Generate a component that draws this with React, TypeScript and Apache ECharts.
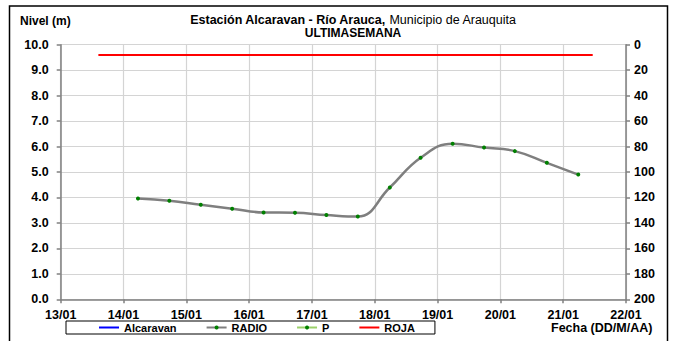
import React, { useEffect, useRef } from "react";
import * as echarts from "echarts";

// Days of January (decimal day) for each RADIO reading
const radioTimes = [14.23, 14.73, 15.23, 15.73, 16.23, 16.73, 17.23, 17.73, 18.24, 18.73, 19.24, 19.74, 20.23, 20.74, 21.24];
const radioLevels = [3.96, 3.87, 3.71, 3.56, 3.41, 3.40, 3.31, 3.25, 4.39, 5.56, 6.11, 5.96, 5.82, 5.36, 4.90];
// Red alert threshold (ROJA)
const rojaTimes = [13.6, 21.47];
const rojaLevels = [9.6, 9.6];
const legendNames = ["Alcaravan", "RADIO", "P", "ROJA"];
const titleBold = "Estación Alcaravan - Río Arauca,";
const titleNormal = " Municipio de Arauquita";
const subtitle = "ULTIMASEMANA";
const yName = "Nivel (m)";
const xName = "Fecha (DD/M/AA)";

const FONT = "'Liberation Sans', Arial, sans-serif";

export default function App() {
  const ref = useRef<HTMLDivElement>(null);
  useEffect(() => {
    if (!ref.current) return;
    const chart = echarts.init(ref.current, null, { renderer: "svg" });
    const axisLineStyle = { color: "#808080", width: 1.5 };
    const labelStyle = { color: "#000", fontFamily: FONT, fontWeight: "bold" as const, fontSize: 12.5 };
    const noDot = { color: "rgba(0,0,0,0)", borderWidth: 0 };
    chart.setOption({
      animation: false,
      backgroundColor: "#fff",
      grid: { left: 60.7, right: 48, top: 44.7, bottom: 41.7 },
      xAxis: {
        type: "value",
        min: 13,
        max: 22,
        interval: 1,
        axisLine: { show: true, lineStyle: axisLineStyle, onZero: false },
        axisTick: { show: true, length: 4, lineStyle: axisLineStyle },
        axisLabel: { ...labelStyle, margin: 9, formatter: (v: number) => `${String(v).padStart(2, "0")}/01` },
        splitLine: { show: true, lineStyle: { color: "#d4d4d4", width: 1.2 } },
      },
      yAxis: [
        {
          type: "value",
          min: 0,
          max: 10,
          interval: 1,
          axisLine: { show: true, lineStyle: axisLineStyle },
          axisTick: { show: true, length: 4, lineStyle: axisLineStyle },
          axisLabel: { ...labelStyle, margin: 12, formatter: (v: number) => v.toFixed(1) },
          splitLine: { show: true, lineStyle: { color: "#d4d4d4", width: 1.2 } },
        },
        {
          type: "value",
          position: "right",
          inverse: true,
          min: 0,
          max: 200,
          interval: 20,
          axisLine: { show: true, lineStyle: axisLineStyle },
          axisTick: { show: true, length: 4, lineStyle: axisLineStyle },
          axisLabel: { ...labelStyle, margin: 8 },
          splitLine: { show: false },
        },
      ],
      legend: {
        data: [
          { name: legendNames[0], itemStyle: noDot },
          { name: legendNames[1] },
          { name: legendNames[2] },
          { name: legendNames[3], itemStyle: noDot },
        ],
        left: 66,
        top: 321,
        padding: [1, 20, 1, 32],
        itemGap: 29,
        itemWidth: 20,
        itemHeight: 5,
        borderColor: "#000",
        borderWidth: 1,
        textStyle: { color: "#000", fontFamily: FONT, fontWeight: "bold", fontSize: 11 },
      },
      series: [
        {
          name: "Alcaravan",
          type: "line",
          data: [],
          symbol: "none",
          itemStyle: { color: "#0000ff" },
          lineStyle: { color: "#0000ff", width: 3 },
        },
        {
          name: "RADIO",
          type: "line",
          data: radioTimes.map((t, i) => [t, radioLevels[i]]),
          smooth: 0.45,
          symbol: "circle",
          symbolSize: 4,
          itemStyle: { color: "#008000" },
          lineStyle: { color: "#7f7f7f", width: 2.5 },
          z: 3,
        },
        {
          name: "P",
          type: "line",
          data: [],
          symbol: "circle",
          symbolSize: 4,
          itemStyle: { color: "#008000" },
          lineStyle: { color: "#9bd06a", width: 3 },
        },
        {
          name: "ROJA",
          type: "line",
          data: rojaTimes.map((t, i) => [t, rojaLevels[i]]),
          symbol: "none",
          itemStyle: { color: "#ff0000" },
          lineStyle: { color: "#ff0000", width: 2 },
        },
      ],
      graphic: [
        {
          type: "rect",
          shape: { x: 9.5, y: 6, width: 658, height: 345 },
          style: { fill: "none", stroke: "#000", lineWidth: 1.5 },
          silent: true,
        },
        {
          type: "text",
          x: 20,
          y: 21,
          style: { text: yName, fontFamily: FONT, fontWeight: "bold", fontSize: 12, fill: "#000", verticalAlign: "middle", align: "left" },
        },
        {
          type: "text",
          x: 353,
          y: 20,
          style: {
            text: `{b|${titleBold}}{n|${titleNormal}}`,
            align: "center",
            verticalAlign: "middle",
            rich: {
              b: { fontFamily: FONT, fontWeight: "bold", fontSize: 12.5, fill: "#000", color: "#000" },
              n: { fontFamily: FONT, fontWeight: "normal", fontSize: 12.5, fill: "#000", color: "#000" },
            },
          },
        },
        {
          type: "text",
          x: 353,
          y: 32.5,
          style: { text: subtitle, fontFamily: FONT, fontWeight: "bold", fontSize: 12, fill: "#000", align: "center", verticalAlign: "middle" },
        },
        {
          type: "text",
          x: 551,
          y: 328,
          style: { text: xName, fontFamily: FONT, fontWeight: "bold", fontSize: 12.5, fill: "#000", align: "left", verticalAlign: "middle" },
        },
      ],
    });
    return () => chart.dispose();
  }, []);
  return <div ref={ref} style={{ position: "fixed", left: 0, top: 0, width: 674, height: 341 }} />;
}
